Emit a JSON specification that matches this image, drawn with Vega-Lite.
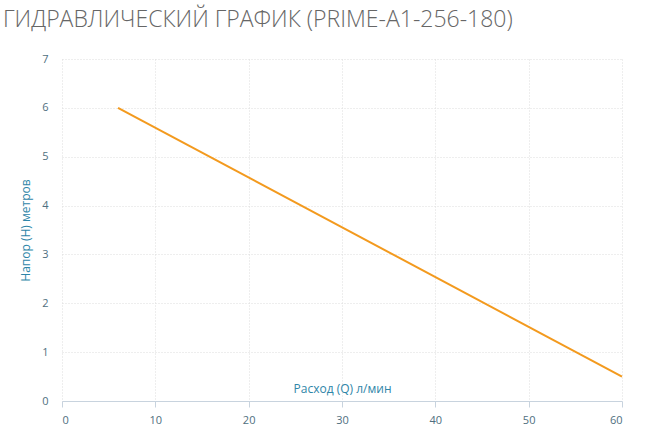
{
  "$schema": "https://vega.github.io/schema/vega-lite/v6.json",
  "autosize": "none",
  "width": 560,
  "height": 342,
  "padding": {"left": 62, "top": 59, "right": 23, "bottom": 42},
  "background": "white",
  "title": {
    "text": "ГИДРАВЛИЧЕСКИЙ ГРАФИК (PRIME-A1-256-180)",
    "anchor": "start",
    "frame": "group",
    "dx": -59,
    "offset": 3,
    "baseline": "alphabetic",
    "font": "Open Sans",
    "fontSize": 23,
    "fontWeight": 300,
    "color": "#666666"
  },
  "config": {
    "view": {"stroke": null},
    "axis": {
      "labelFont": "Open Sans",
      "titleFont": "Open Sans",
      "labelColor": "#4f6f80",
      "titleColor": "#2f86a8",
      "labelFontSize": 11,
      "titleFontSize": 12,
      "titleFontWeight": "normal",
      "gridColor": "#dcdcdc",
      "gridDash": [1, 2],
      "gridWidth": 1
    }
  },
  "data": {
    "values": [
      {"q": 6, "h": 6},
      {"q": 60, "h": 0.5}
    ]
  },
  "mark": {"type": "line", "color": "#f39a1e", "strokeWidth": 2},
  "encoding": {
    "x": {
      "field": "q",
      "type": "quantitative",
      "scale": {"domain": [0, 60], "nice": false},
      "axis": {
        "values": [0, 10, 20, 30, 40, 50, 60],
        "title": "Расход (Q) л/мин",
        "titleY": -9,
        "titleBaseline": "alphabetic",
        "domainColor": "#c8d3de",
        "tickColor": "#c8d3de",
        "tickSize": 6,
        "labelPadding": 7,
        "grid": true
      }
    },
    "y": {
      "field": "h",
      "type": "quantitative",
      "scale": {"domain": [0, 7], "nice": false},
      "axis": {
        "values": [0, 1, 2, 3, 4, 5, 6, 7],
        "title": "Напор (H) метров",
        "titleX": -37,
        "titleY": 171,
        "titleAlign": "center",
        "titleBaseline": "middle",
        "titleAngle": -90,
        "domain": false,
        "ticks": false,
        "labelPadding": 14,
        "grid": true
      }
    }
  }
}
